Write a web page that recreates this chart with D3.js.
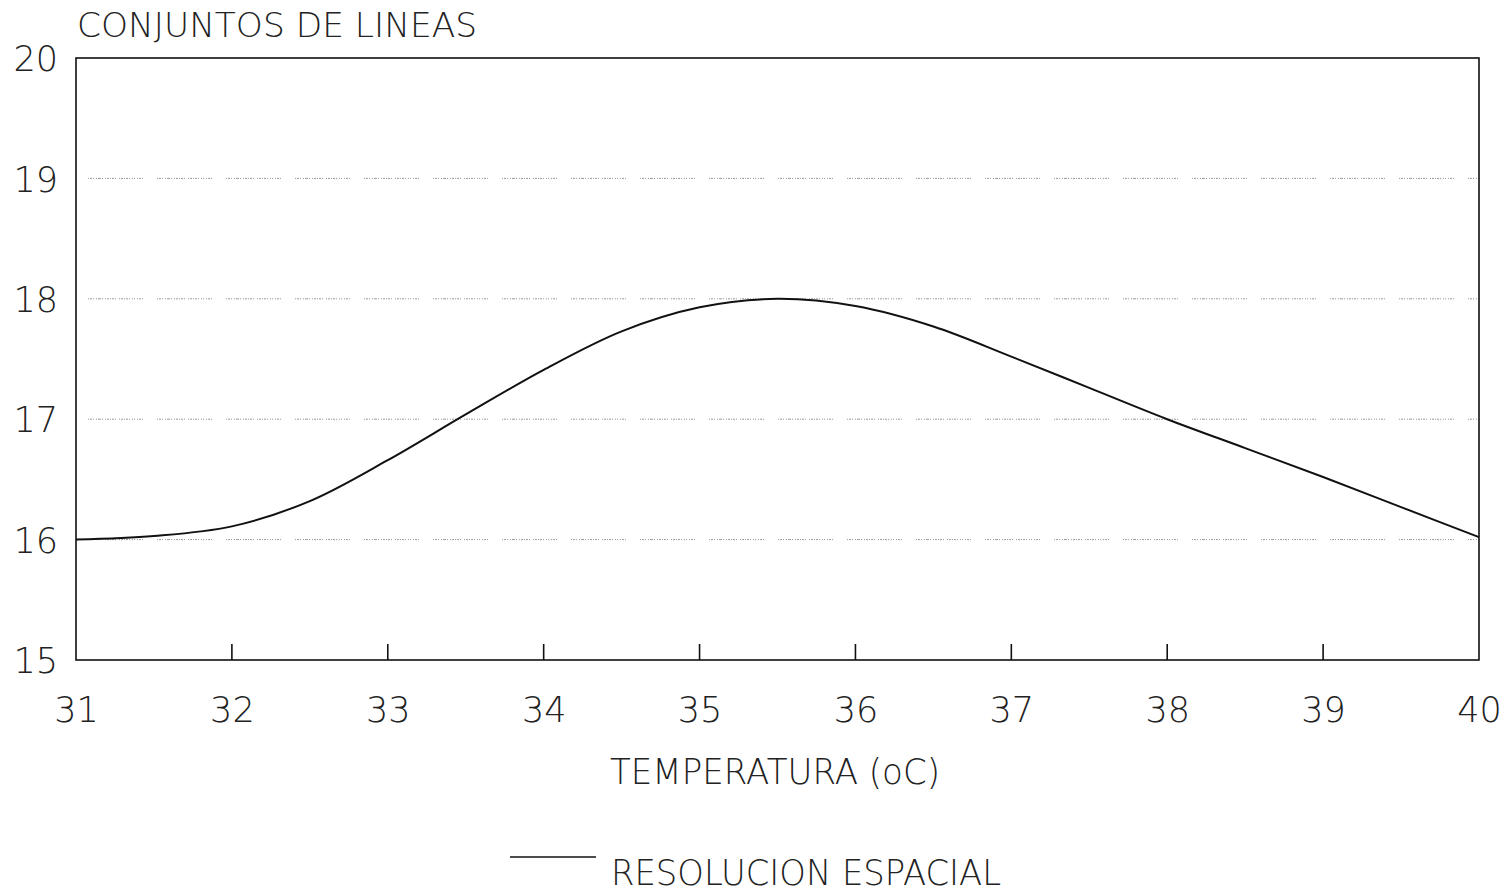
<!DOCTYPE html>
<html>
<head>
<meta charset="utf-8">
<script src="https://cdn.jsdelivr.net/npm/d3@7"></script>
<style>
  html, body { margin: 0; padding: 0; background: #fff; }
  svg text { font-family: "DejaVu Sans", sans-serif; font-weight: 200; fill: #222; }
</style>
</head>
<body>
<svg id="chart" width="1507" height="894"></svg>
<script>
// Temperature (oC) samples and spatial resolution values
const temperatura = [31, 31.5, 32, 32.5, 33, 33.5, 34, 34.5, 35, 35.5, 36, 36.5, 37, 37.5, 38, 38.5, 39, 39.5, 40];
const resolucion  = [16.0, 16.03, 16.11, 16.32, 16.66, 17.04, 17.41, 17.73, 17.93, 18.0, 17.94, 17.77, 17.52, 17.26, 17.0, 16.76, 16.52, 16.27, 16.02];

const xTicks = [31, 32, 33, 34, 35, 36, 37, 38, 39, 40];
const yTicks = [15, 16, 17, 18, 19, 20];
const gridValues = [16, 17, 18, 19];

const titulo = "CONJUNTOS DE LINEAS";
const ejeX = "TEMPERATURA (oC)";
const leyenda = "RESOLUCION ESPACIAL";

const svg = d3.select("#chart");
const plot = { left: 76, right: 1479, top: 58, bottom: 660 };

const x = d3.scaleLinear().domain([31, 40]).range([plot.left, plot.right]);
const y = d3.scaleLinear().domain([15, 20]).range([plot.bottom, plot.top]);

// Dotted horizontal grid (fine dots with a few breaks)
svg.append("g").selectAll("line").data(gridValues).join("line")
  .attr("x1", x(31) + 12).attr("x2", plot.right)
  .attr("y1", d => y(d)).attr("y2", d => y(d))
  .attr("stroke", "#9a9a9a").attr("stroke-width", 1)
  .attr("stroke-dasharray", "1 1 2 1 1 2 1 1 3 1 1 2 1 1 2 1 1 1 2 1 1 3 1 1 2 1 1 1 2 1 1 2 1 1 1 2 1 1 2 1 1 14");

// Frame
svg.append("rect")
  .attr("x", plot.left).attr("y", plot.top)
  .attr("width", plot.right - plot.left).attr("height", plot.bottom - plot.top)
  .attr("fill", "none").attr("stroke", "#111").attr("stroke-width", 1.6);

// Bottom axis: inward ticks and labels
const xAxis = d3.axisBottom(x).tickValues(xTicks).tickSize(0).tickPadding(0).tickFormat(d3.format("d"));
const gx = svg.append("g").attr("transform", `translate(0,${plot.bottom})`).call(xAxis);
gx.select(".domain").remove();
gx.selectAll(".tick text")
  .attr("y", 62).attr("dy", 0).attr("font-size", 35).attr("font-family", null).attr("fill", "#222");
svg.append("g").selectAll("line").data(xTicks.slice(1, -1)).join("line")
  .attr("x1", d => x(d)).attr("x2", d => x(d))
  .attr("y1", plot.bottom).attr("y2", plot.bottom - 16)
  .attr("stroke", "#111").attr("stroke-width", 1.6);

// Left axis labels
const yAxis = d3.axisLeft(y).tickValues(yTicks).tickSize(0).tickPadding(0).tickFormat(d3.format("d"));
const gy = svg.append("g").attr("transform", `translate(${plot.left - 18},0)`).call(yAxis);
gy.select(".domain").remove();
gy.selectAll(".tick text")
  .attr("font-size", 35).attr("font-family", null).attr("fill", "#222").attr("dy", "0.36em");

// Curve
const line = d3.line().x((d, i) => x(temperatura[i])).y(d => y(d)).curve(d3.curveCatmullRom.alpha(0.5));
svg.append("path").datum(resolucion)
  .attr("d", line).attr("fill", "none").attr("stroke", "#111").attr("stroke-width", 2);

// Title and axis title
svg.append("text").attr("x", 77).attr("y", 37).attr("font-size", 33)
  .attr("textLength", 400).attr("lengthAdjust", "spacingAndGlyphs").text(titulo);
svg.append("text").attr("x", 610).attr("y", 784).attr("font-size", 35)
  .attr("textLength", 330).attr("lengthAdjust", "spacingAndGlyphs").text(ejeX);

// Legend
svg.append("line").attr("x1", 510).attr("x2", 596).attr("y1", 857).attr("y2", 857)
  .attr("stroke", "#111").attr("stroke-width", 1.6);
svg.append("text").attr("x", 611).attr("y", 885).attr("font-size", 35)
  .attr("textLength", 390).attr("lengthAdjust", "spacingAndGlyphs").text(leyenda);
</script>
</body>
</html>
